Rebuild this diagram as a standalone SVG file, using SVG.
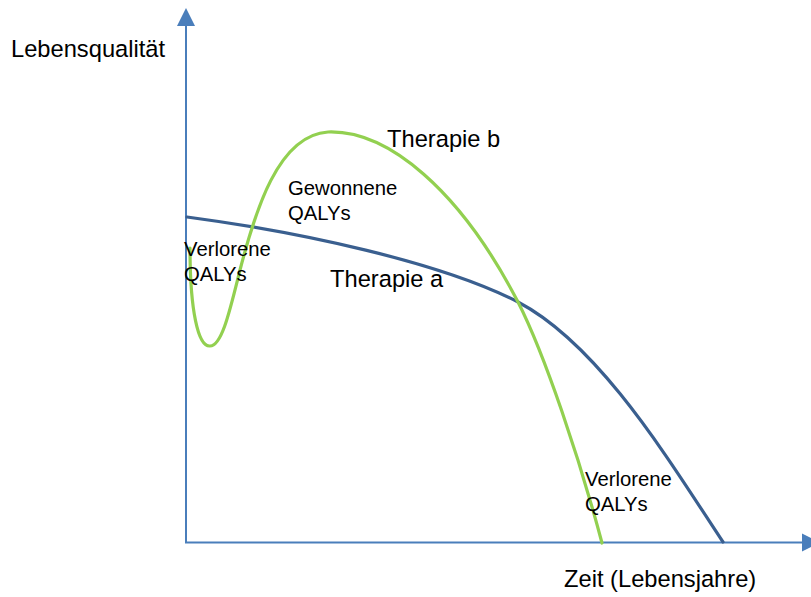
<svg xmlns="http://www.w3.org/2000/svg" width="811" height="597" viewBox="0 0 811 597">
<style>
text{font-family:"Liberation Sans",Arial,sans-serif;fill:#000}
.big{font-size:23.7px}
.small{font-size:20.3px}
.axis{stroke:#4A7EBB;stroke-width:2;fill:none}
.curve{fill:none;stroke-width:3.2;stroke-linecap:round}
</style>
<rect width="811" height="597" fill="#fff"/>
<g id="connectors">
<g id="axes">
<line class="axis" x1="186" y1="543" x2="186" y2="24"/>
<polygon points="186,8 177,26 195,26" fill="#4A7EBB"/>
<line class="axis" x1="185" y1="542.5" x2="804" y2="542.5"/>
<polygon points="820,542.5 802,533.5 802,551.5" fill="#4A7EBB"/>
</g>
<path id="curve-a" class="curve" stroke="#3A5F8F" d="M187,217 C300,232 440,262 518,302 C600,345 670,462 723,542"/>
<path id="curve-b" class="curve" stroke="#92D050" d="M190,248 C190,310 198,347 210,346 C222,346 230,310 240,270 C255,212 278,135 328,132 C388,130 460,190 518,302 C545,355 580,460 602,543"/>
</g>
<g id="label-y"><text class="big" x="11" y="57">Lebensqualität</text></g>
<g id="label-x"><text class="big" x="564" y="587">Zeit (Lebensjahre)</text></g>
<g id="label-b"><text class="big" x="387" y="147">Therapie b</text></g>
<g id="label-a"><text class="big" x="330" y="287">Therapie a</text></g>
<g id="label-gained"><text class="small" x="288" y="195">Gewonnene</text><text class="small" x="288" y="219.5">QALYs</text></g>
<g id="label-lost-1"><text class="small" x="184" y="256">Verlorene</text><text class="small" x="184" y="280.5">QALYs</text></g>
<g id="label-lost-2"><text class="small" x="585" y="486">Verlorene</text><text class="small" x="585" y="510.5">QALYs</text></g>
</svg>
